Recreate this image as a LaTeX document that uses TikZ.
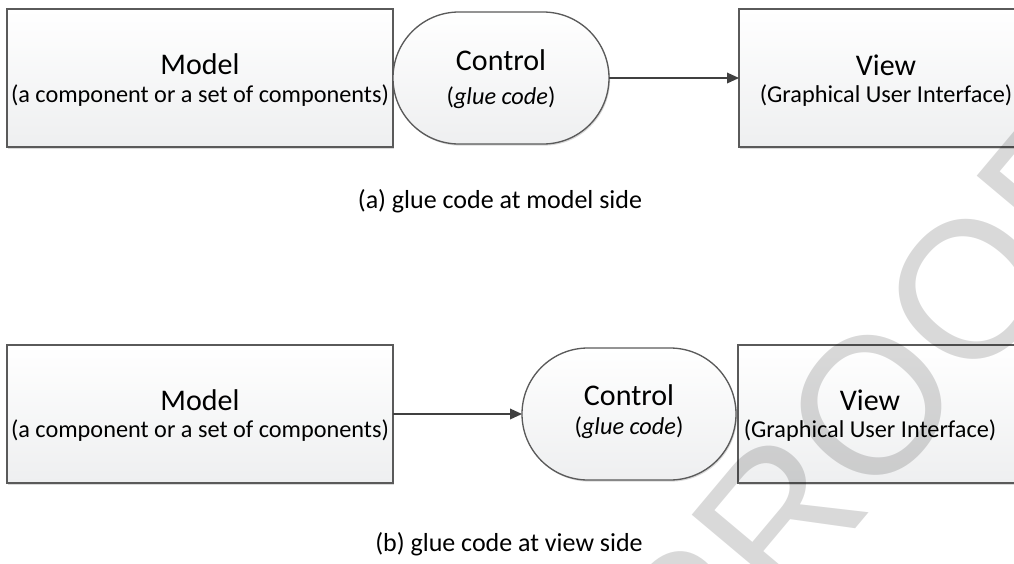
\documentclass[tikz,border=0pt]{standalone}
\usepackage{fontspec}
\setmainfont{Carlito}
\newfontfamily\wmfont{Liberation Sans}
\usetikzlibrary{shapes.misc,arrows.meta,shadows}

\definecolor{boxline}{HTML}{5A5A5A}
\definecolor{boxfill}{HTML}{EEEFF0}
\definecolor{flowline}{HTML}{404040}

\tikzset{
  box/.style={rectangle, draw=boxline, line width=1pt, inner sep=0pt, outer sep=0pt,
    top color=white, bottom color=boxfill,
    drop shadow={shadow xshift=0.8pt, shadow yshift=-1.2pt, opacity=0.25, fill=black!60}},
  terminal/.style={box, rounded rectangle, rounded rectangle arc length=180},
  title/.style={anchor=base, inner sep=0pt, font=\fontsize{22.5}{27}\selectfont},
  sub/.style={anchor=base, inner sep=0pt, font=\fontsize{18.2}{22}\selectfont},
  caption/.style={anchor=base, inner sep=0pt, font=\fontsize{19.5}{23}\selectfont},
  flow/.style={draw=flowline, line width=1pt, -{Triangle[length=9pt,width=8pt]}},
  wm/.style={rotate=50, inner sep=0pt, text=black, text opacity=0.15,
    font=\wmfont\fontsize{146}{146}\selectfont}
}

\begin{document}
\begin{tikzpicture}[x=0.75pt,y=-0.75pt]
\useasboundingbox (0,0) rectangle (1014,564);
\clip (0,0) rectangle (1014,564);

% (a) glue code on the model side
\node[box, minimum width=289.5pt, minimum height=103.5pt] (m1) at (200,78) {};
\node[box, minimum width=220.5pt, minimum height=103.5pt] (v1) at (886,78) {};
\node[terminal, minimum width=162pt, minimum height=99pt] (c1) at (501,78) {};
\draw[flow] (c1.east) -- (v1.west);

\node[title] (m1a) at (200,74) {Model};
\node[sub] (m1b) at (200,102) {(a component or a set of components)};
\node[title] (c1a) at (501,70) {Control};
\node[sub] (c1b) at (501,104) {(\textit{glue code})};
\node[title] (v1a) at (886,75) {View};
\node[sub] (v1b) at (886,102) {(Graphical User Interface)};

\node[caption] (capa) at (500,208) {(a) glue code at model side};

% (b) glue code on the view side
\node[box, minimum width=289.5pt, minimum height=103.5pt] (m2) at (200,414) {};
\node[box, minimum width=225pt, minimum height=103.5pt] (v2) at (888,414) {};
\node[terminal, minimum width=160.5pt, minimum height=99pt] (c2) at (629,414) {};
\draw[flow] (m2.east) -- (c2.west);

\node[title] (m2a) at (200,410) {Model};
\node[sub] (m2b) at (200,437) {(a component or a set of components)};
\node[title] (c2a) at (629,405) {Control};
\node[sub] (c2b) at (629,434) {(\textit{glue code})};
\node[title] (v2a) at (870,410) {View};
\node[sub] (v2b) at (870,437) {(Graphical User Interface)};

\node[caption] (capb) at (509,551) {(b) glue code at view side};

% proof stamp across the lower right
\node[wm] (proof) at (872,405) {PROOF};
\end{tikzpicture}
\end{document}
